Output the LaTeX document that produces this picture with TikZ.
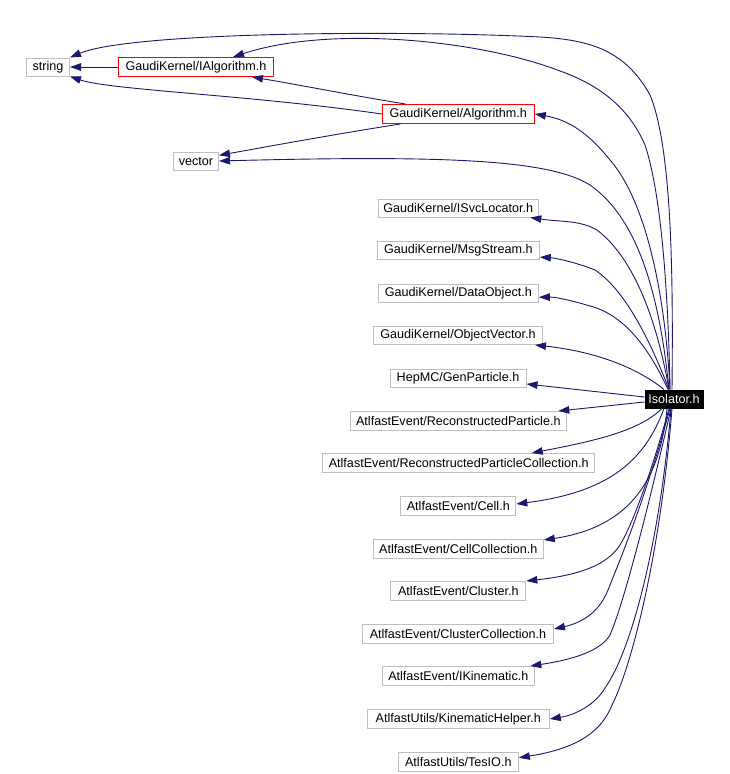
\documentclass[tikz,border=0pt]{standalone}
\usepackage{fontspec}
\setmainfont{Liberation Sans}
\usetikzlibrary{arrows.meta}
\definecolor{boxgray}{HTML}{BFBFBF}
\definecolor{edgeblue}{HTML}{191970}
\tikzset{
  box/.style={draw=boxgray, line width=1pt, minimum height=19pt, inner sep=0pt, font=\fontsize{12.6}{14}\selectfont},
  redbox/.style={box, draw=red},
  mainbox/.style={box, draw=black, fill=black, text=white},
  edge/.style={draw=edgeblue, line width=0.9pt, -{Triangle[length=11pt,width=7.5pt]}}
}
\begin{document}
\begin{tikzpicture}[x=1pt,y=-1pt]
\useasboundingbox (0,0) rectangle (729,774);
% nodes
\node[box, minimum width=43pt, minimum height=18pt] (strg) at (48,67) {string};
\node[redbox, minimum width=155pt] (ialg) at (196,67) {GaudiKernel/IAlgorithm.h};
\node[redbox, minimum width=152pt] (alg) at (458.3,114) {GaudiKernel/Algorithm.h};
\node[box, minimum width=45pt, minimum height=18pt] (vec) at (196,161) {vector};
\node[box, minimum width=160pt, minimum height=18pt] (isvc) at (458.3,208) {GaudiKernel/ISvcLocator.h};
\node[box, minimum width=162pt, minimum height=18pt] (msg) at (458.3,250) {GaudiKernel/MsgStream.h};
\node[box, minimum width=160pt, minimum height=18pt] (dobj) at (458.3,293) {GaudiKernel/DataObject.h};
\node[box, minimum width=169pt, minimum height=18pt] (ovec) at (458,335.5) {GaudiKernel/ObjectVector.h};
\node[box, minimum width=136pt, minimum height=18pt] (gen) at (458,378) {HepMC/GenParticle.h};
\node[mainbox, minimum width=58pt, minimum height=18pt] (iso) at (674,399) {Isolator.h};
\node[box, minimum width=216pt] (rp) at (458.3,421) {AtlfastEvent/ReconstructedParticle.h};
\node[box, minimum width=272pt] (rpc) at (458.7,463) {AtlfastEvent/ReconstructedParticleCollection.h};
\node[box, minimum width=115pt] (cell) at (458.3,506) {AtlfastEvent/Cell.h};
\node[box, minimum width=170pt] (cc) at (458.3,549) {AtlfastEvent/CellCollection.h};
\node[box, minimum width=135pt] (cl) at (458.3,591) {AtlfastEvent/Cluster.h};
\node[box, minimum width=191pt] (clc) at (458,634) {AtlfastEvent/ClusterCollection.h};
\node[box, minimum width=152pt] (ik) at (458.3,676) {AtlfastEvent/IKinematic.h};
\node[box, minimum width=182pt] (kh) at (458.3,719) {AtlfastUtils/KinematicHelper.h};
\node[box, minimum width=120pt] (tes) at (458.3,762) {AtlfastUtils/TesIO.h};
% edges among the top nodes
\draw[edge] (ialg) -- (strg);
\draw[edge] ([xshift=-53pt]alg.north) .. controls (350,95) and (300,85) .. ([xshift=56pt]ialg.south);
\draw[edge] (alg.west) .. controls (250,95) and (110,90) .. (strg.south east);
\draw[edge] ([xshift=-58pt]alg.south) .. controls (330,135) and (260,148) .. (vec.14);
% edges from Isolator (upper)
\draw[edge] ([xshift=-2pt]iso.north) .. controls (673,290) and (673,150) .. (650,95)
  .. controls (625,50) and (590,40) .. (540,37)
  .. controls (400,30) and (130,32) .. (strg.north east);
\draw[edge] ([xshift=-4pt]iso.north) .. controls (668,280) and (660,190) .. (645,145)
  .. controls (632,115) and (608,88) .. (560,71)
  .. controls (480,40) and (330,25) .. ([xshift=37pt]ialg.north);
\draw[edge] ([xshift=-4pt]iso.north) .. controls (665,290) and (645,200) .. (610,160)
  .. controls (590,135) and (570,120) .. (alg.east);
\draw[edge] ([xshift=-5pt]iso.north) .. controls (660,300) and (640,220) .. (590,185)
  .. controls (550,160) and (450,155) .. (vec.east);
\draw[edge] ([xshift=-5pt]iso.north) .. controls (655,310) and (630,255) .. (597,230)
  .. controls (580,220) and (560,222) .. ([xshift=72pt]isvc.south);
\draw[edge] ([xshift=-5pt]iso.north) .. controls (650,340) and (625,290) .. (595,270)
  .. controls (575,262) and (555,258) .. (msg.-5);
\draw[edge] ([xshift=-6pt]iso.north) .. controls (650,350) and (625,315) .. (590,306)
  .. controls (570,300) and (555,297) .. (dobj.-3);
\draw[edge] ([xshift=-10pt]iso.north) .. controls (640,370) and (600,352) .. ([xshift=77pt]ovec.south);
\draw[edge] ([yshift=2pt]iso.west) -- (gen.-5);
% edges from Isolator (lower)
\draw[edge] ([yshift=-3pt]iso.west) -- ([xshift=100pt]rp.north);
\draw[edge] ([xshift=-12pt]iso.south) .. controls (640,430) and (600,440) .. ([xshift=73pt]rpc.north);
\draw[edge] ([xshift=-10pt]iso.south) .. controls (645,460) and (610,492) .. (cell.2);
\draw[edge] ([xshift=-7pt]iso.south) .. controls (660,480) and (630,527) .. (cc.6);
\draw[edge] ([xshift=-5pt]iso.south) .. controls (655,460) and (635,520) .. (620,545)
  .. controls (607,565) and (580,575) .. (cl.north east);
\draw[edge] ([xshift=-4pt]iso.south) .. controls (645,500) and (620,560) .. (608,590)
  .. controls (600,610) and (585,622) .. (clc.3);
\draw[edge] ([xshift=-3pt]iso.south) .. controls (650,500) and (625,600) .. (610,635)
  .. controls (600,652) and (570,660) .. ([xshift=72pt]ik.north);
\draw[edge] ([xshift=-3pt]iso.south) .. controls (660,540) and (632,650) .. (605,688)
  .. controls (595,705) and (575,715) .. (kh.east);
\draw[edge] ([xshift=-2pt]iso.south) .. controls (660,560) and (630,670) .. (612,705)
  .. controls (602,730) and (580,748) .. (tes.4);
\end{tikzpicture}
\end{document}
